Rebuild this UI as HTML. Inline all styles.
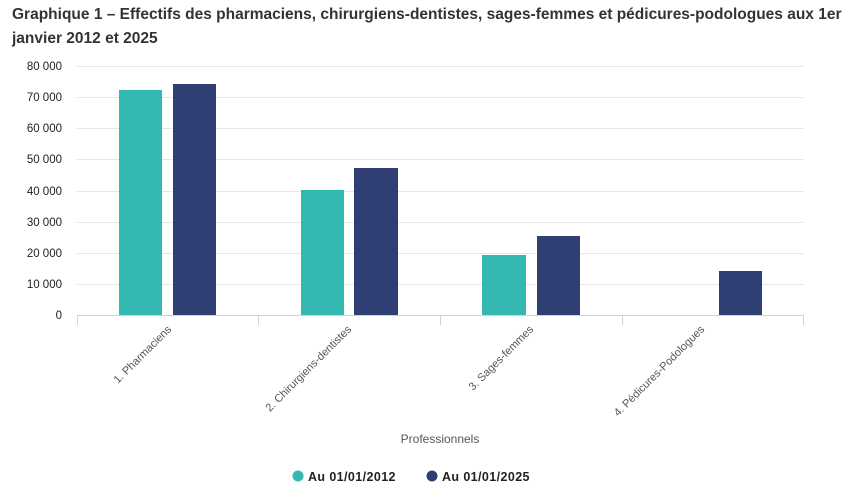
<!DOCTYPE html>
<html><head><meta charset="utf-8"><style>
body{margin:0;background:#fff;width:845px;height:500px;overflow:hidden;font-family:"Liberation Sans",sans-serif}
.t{position:absolute;left:12px;top:3px;font-size:15.5px;font-weight:bold;color:#333;line-height:24px;width:830px}
</style></head><body>
<div class="t">Graphique 1 – Effectifs des pharmaciens, chirurgiens-dentistes, sages-femmes et pédicures-podologues aux 1er janvier 2012 et 2025</div>
<svg width="845" height="500" style="position:absolute;left:0;top:0" font-family="Liberation Sans, sans-serif">
<g stroke="#e6e6e6" stroke-width="1">
<line x1="77" x2="804" y1="66.5" y2="66.5"/><line x1="77" x2="804" y1="97.5" y2="97.5"/><line x1="77" x2="804" y1="128.5" y2="128.5"/><line x1="77" x2="804" y1="159.5" y2="159.5"/><line x1="77" x2="804" y1="191.5" y2="191.5"/><line x1="77" x2="804" y1="222.5" y2="222.5"/><line x1="77" x2="804" y1="253.5" y2="253.5"/><line x1="77" x2="804" y1="284.5" y2="284.5"/>
</g>
<g font-size="11.5" fill="#222" text-anchor="end">
<text x="62" y="70">80 000</text><text x="62" y="101">70 000</text><text x="62" y="132">60 000</text><text x="62" y="163">50 000</text><text x="62" y="195">40 000</text><text x="62" y="226">30 000</text><text x="62" y="257">20 000</text><text x="62" y="288">10 000</text><text x="62" y="319">0</text>
</g>
<g fill="#33b9b2"><rect x="119" y="90" width="43" height="225"/><rect x="301" y="190" width="43" height="125"/><rect x="482" y="255" width="44" height="60"/></g>
<g fill="#2f3f73"><rect x="173" y="84" width="43" height="231"/><rect x="354" y="168" width="44" height="147"/><rect x="537" y="236" width="43" height="79"/><rect x="719" y="271" width="43" height="44"/></g>
<g stroke="#c9d3e3" stroke-width="1"><line x1="77" x2="804" y1="315.5" y2="315.5"/><line x1="77.5" x2="77.5" y1="315" y2="325"/><line x1="258.5" x2="258.5" y1="315" y2="325"/><line x1="440.5" x2="440.5" y1="315" y2="325"/><line x1="622.5" x2="622.5" y1="315" y2="325"/><line x1="803.5" x2="803.5" y1="315" y2="325"/></g>
<g font-size="11" fill="#555" text-anchor="end">
<text transform="translate(172,330) rotate(-45)">1. Pharmaciens</text>
<text transform="translate(352,330) rotate(-45)">2. Chirurgiens-dentistes</text>
<text transform="translate(534,330) rotate(-45)">3. Sages-femmes</text>
<text transform="translate(705,330) rotate(-45)">4. Pédicures-Podologues</text>
</g>
<text x="440" y="443" font-size="12" fill="#555" text-anchor="middle">Professionnels</text>
<circle cx="298" cy="476" r="5.5" fill="#33b9b2"/><text x="308" y="481" font-size="12.5" font-weight="bold" fill="#222" letter-spacing="0.4">Au 01/01/2012</text>
<circle cx="432" cy="476" r="5.5" fill="#2f3f73"/><text x="442" y="481" font-size="12.5" font-weight="bold" fill="#222" letter-spacing="0.4">Au 01/01/2025</text>
</svg>
</body></html>
